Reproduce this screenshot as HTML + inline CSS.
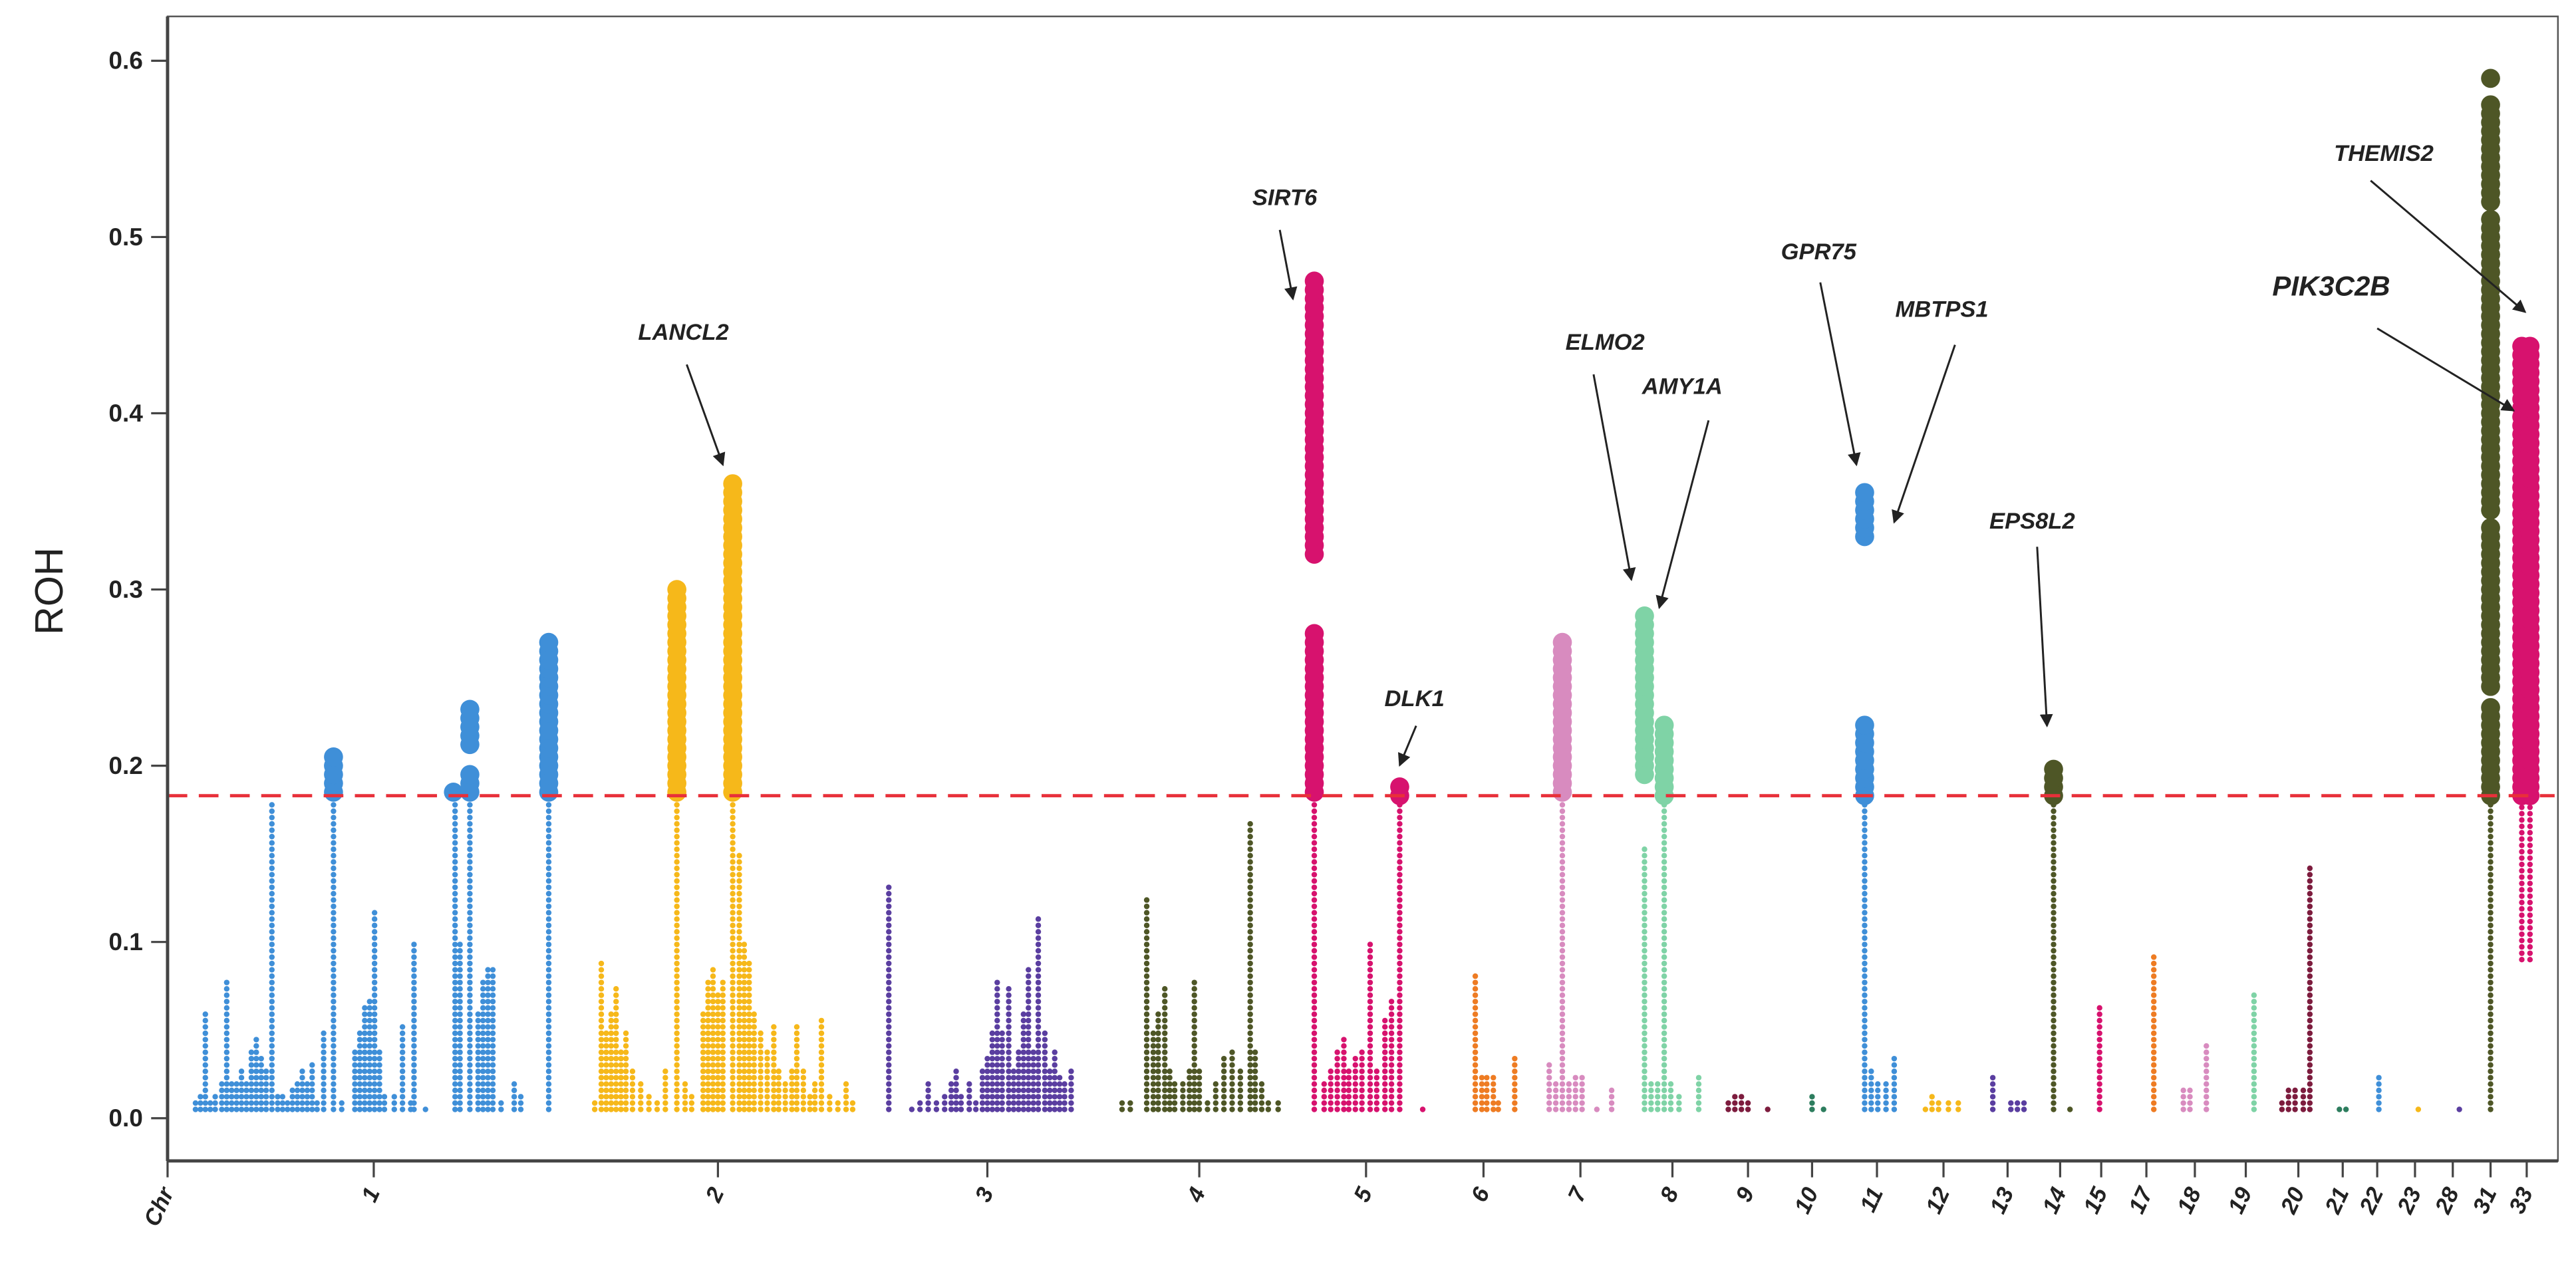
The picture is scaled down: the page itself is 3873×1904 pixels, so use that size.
<!DOCTYPE html>
<html><head><meta charset="utf-8"><style>
html,body{margin:0;padding:0;background:#fff}
svg{display:block}
text{font-family:"Liberation Sans",Arial,sans-serif}
</style></head><body>
<svg id="chart" xmlns="http://www.w3.org/2000/svg" width="3873" height="1904" viewBox="0 0 1568 771" preserveAspectRatio="none">
<rect x="0" y="0" width="1568" height="771" fill="#fff"/>
<g id="dots"></g>
<g id="axes"></g>
<g id="notes"></g>
</svg>
<script>
// ---- data ----
const yTicks = [0.0, 0.1, 0.2, 0.3, 0.4, 0.5, 0.6];
const threshold = 0.183;
const chrLabels = ["Chr","1","2","3","4","5","6","7","8","9","10","11","12","13","14","15","17","18","19","20","21","22","23","28","31","33"];
const chrTickPos = [0,251,670,998,1256,1459,1602,1720,1832,1924,2002,2081,2162,2240,2304,2354,2409,2468,2530,2594,2648,2690,2736,2782,2828,2872];
// each SNP column: chromosome label, cumulative position, lower ROH, upper ROH
const colChr = [];
const colPos = [];
const colLo = [];
const colHi = [];
const rawCols = [
["1",119,.005,.012],["1",122,.005,.015],["1",125,.005,.061],["1",128,.005,.012],["1",131,.005,.015],["1",135,.005,.022],["1",138,.005,.077],["1",141,.005,.022],["1",144,.005,.022],["1",147,.005,.03],["1",150,.005,.022],["1",153,.005,.04],["1",156,.005,.048],["1",159,.005,.035],["1",162,.005,.03],["1",165.5,.005,.18],["1",169,.005,.013],["1",172,.005,.013],["1",175,.005,.012],["1",178,.005,.018],["1",181,.005,.022],["1",184,.005,.028],["1",187,.005,.022],["1",190,.005,.031],["1",193,.005,.012],["1",197,.005,.05],["1",203,.005,.18],["1",203,.185,.205],["1",208,.005,.012],
["1",216,.005,.04],["1",219,.005,.05],["1",222,.005,.065],["1",225,.005,.069],["1",228,.005,.12],["1",231,.005,.04],["1",234,.005,.015],["1",240,.005,.015],["1",245,.005,.052],["1",250,.005,.012],["1",252,.005,.099],["1",259,.005,.005],["1",277,.005,.18],["1",276,.185,.186],["1",280,.005,.1],["1",286,.005,.18],["1",286,.185,.198],["1",286,.212,.235],["1",291,.005,.06],["1",294,.005,.08],["1",297,.005,.086],["1",300,.005,.086],["1",305,.005,.01],["1",313,.005,.02],["1",317,.005,.015],["1",334,.005,.18],["1",334,.185,.273],
["2",362,.005,.01],["2",366,.005,.091],["2",369,.005,.05],["2",372,.005,.06],["2",375,.005,.075],["2",378,.005,.04],["2",381,.005,.05],["2",385,.005,.03],["2",390,.005,.02],["2",395,.005,.015],["2",400,.005,.01],["2",405,.005,.03],["2",412,.005,.18],["2",412,.185,.30],["2",417,.005,.02],["2",421,.005,.015],["2",428,.005,.06],["2",431,.005,.08],["2",434,.005,.086],["2",437,.005,.07],["2",440,.005,.08],["2",446,.005,.18],["2",446,.185,.36],["2",450,.005,.15],["2",453,.005,.1],["2",456,.005,.09],["2",459,.005,.06],["2",463,.005,.05],["2",467,.005,.04],["2",471,.005,.055],["2",474,.005,.03],["2",478,.005,.02],["2",482,.005,.03],["2",485,.005,.055],["2",489,.005,.03],["2",493,.005,.015],["2",496,.005,.022],["2",500,.005,.058],["2",505,.005,.015],["2",510,.005,.01],["2",515,.005,.022],["2",519,.005,.01],
["3",541,.005,.132],["3",555,.005,.005],["3",560,.005,.012],["3",565,.005,.02],["3",570,.005,.01],["3",575,.005,.015],["3",579,.005,.02],["3",582,.005,.03],["3",585,.005,.015],["3",590,.005,.02],["3",594,.005,.012],["3",598,.005,.03],["3",601,.005,.037],["3",604,.005,.05],["3",607,.005,.077],["3",610,.005,.05],["3",614,.005,.074],["3",617,.005,.03],["3",620,.005,.04],["3",623,.005,.06],["3",626,.005,.086],["3",629,.005,.04],["3",632,.005,.116],["3",636,.005,.05],["3",639,.005,.03],["3",642,.005,.04],["3",645,.005,.025],["3",648,.005,.02],["3",652,.005,.028],
["4",683,.005,.012],["4",688,.005,.012],["4",698,.005,.124],["4",702,.005,.05],["4",705,.005,.06],["4",709,.005,.075],["4",712,.005,.03],["4",715,.005,.022],["4",720,.005,.02],["4",724,.005,.03],["4",727,.005,.077],["4",730,.005,.03],["4",735,.005,.012],["4",740,.005,.02],["4",745,.005,.035],["4",750,.005,.04],["4",755,.005,.03],["4",761,.005,.167],["4",764,.005,.04],["4",768,.005,.02],["4",772,.005,.012],["4",778,.005,.012],
["5",800,.005,.18],["5",800,.185,.275],["5",800,.32,.475],["5",806,.005,.02],["5",810,.005,.03],["5",814,.005,.04],["5",818,.005,.048],["5",821,.005,.03],["5",825,.005,.035],["5",829,.005,.04],["5",834,.005,.099],["5",838,.005,.03],["5",843,.005,.057],["5",847,.005,.067],["5",852,.005,.18],["5",852,.183,.19],["5",866,.005,.008],
["6",898,.005,.082],["6",902,.005,.023],["6",905,.005,.023],["6",909,.005,.023],["6",912,.005,.01],["6",922,.005,.035],
["7",943,.005,.031],["7",947,.005,.02],["7",951,.005,.18],["7",951,.185,.27],["7",955,.005,.02],["7",959,.005,.023],["7",963,.005,.023],["7",972,.005,.008],["7",981,.005,.017],
["8",1001,.005,.155],["8",1001,.195,.287],["8",1005,.005,.02],["8",1009,.005,.02],["8",1013,.005,.18],["8",1013,.183,.227],["8",1017,.005,.02],["8",1022,.005,.015],["8",1034,.005,.023],
["9",1052,.005,.012],["9",1056,.005,.015],["9",1060,.005,.015],["9",1064,.005,.012],["9",1076,.005,.008],
["10",1103,.005,.015],["10",1110,.005,.005],
["11",1135,.005,.18],["11",1135,.183,.225],["11",1135,.33,.355],["11",1139,.005,.03],["11",1143,.005,.02],["11",1148,.005,.02],["11",1153,.005,.035],
["12",1172,.005,.008],["12",1176,.005,.015],["12",1180,.005,.012],["12",1186,.005,.01],["12",1192,.005,.012],
["13",1213,.005,.026],["13",1224,.005,.012],["13",1228,.005,.012],["13",1232,.005,.012],
["14",1250,.005,.18],["14",1250,.183,.198],["14",1260,.005,.005],
["15",1278,.005,.065],["17",1311,.005,.092],
["18",1329,.005,.017],["18",1333,.005,.017],["18",1343,.005,.043],
["19",1372,.005,.073],
["20",1389,.005,.012],["20",1393,.005,.017],["20",1397,.005,.017],["20",1402,.005,.017],["20",1406,.005,.142],
["21",1424,.005,.005],["21",1428,.005,.005],["22",1448,.005,.026],["23",1472,.005,.005],["28",1497,.005,.005],
["31",1516,.005,.18],["31",1516,.183,.235],["31",1516,.245,.335],["31",1516,.345,.51],["31",1516,.52,.575],["31",1516,.59,.593],
["33",1535,.09,.18],["33",1535,.183,.44],["33",1540,.183,.44],["33",1540,.09,.18]
];
rawCols.forEach(c=>{colChr.push(c[0]);colPos.push((c[1]-102)*2);colLo.push(c[2]);colHi.push(c[3]);});
const chrColor = {"1":"#3f8fd8","2":"#f6b81a","3":"#5a3ea0","4":"#4e5626","5":"#d7126e","6":"#ee7c23","7":"#d88bbf","8":"#7fd3a6","9":"#7d1c3e","10":"#2d7d5e","11":"#3f8fd8","12":"#f6b81a","13":"#5a3ea0","14":"#4e5626","15":"#d7126e","17":"#ee7c23","18":"#d88bbf","19":"#7fd3a6","20":"#7d1c3e","21":"#2d7d5e","22":"#3f8fd8","23":"#f6b81a","28":"#5a3ea0","31":"#4e5626","33":"#d7126e"};
const genes = ["SIRT6","LANCL2","DLK1","ELMO2","AMY1A","GPR75","MBTPS1","EPS8L2","THEMIS2","PIK3C2B"];
const geneLabelX = [782,416,861,977,1024,1107,1182,1237,1451,1419];
const geneLabelY = [125,207,430,213,240,158,193,322,98,180];
const arrowFrom = [[779,140],[418,222],[862,442],[970,228],[1040,256],[1108,172],[1190,210],[1240,333],[1443,110],[1447,200]];
const arrowTo = [[787,182],[440,283],[852,466],[993,353],[1010,370],[1130,283],[1153,318],[1246,442],[1537,190],[1530,250]];

// ---- scales ----
const X0=102,X1=1557,Y0=681,Y6=37;
const x = p => X0 + p/2;
const y = v => Y0 - v*(Y0-Y6)/0.6;
const NS="http://www.w3.org/2000/svg";
function mk(tag, parent){const e=document.createElementNS(NS,tag);parent.appendChild(e);return e;}

// ---- points ----
const dots=document.getElementById('dots');
for(let i=0;i<colPos.length;i++){
  const big = colLo[i] >= threshold-0.001;
  const step = big?0.005:0.0036, r = big?5.8:1.7;
  const col = chrColor[colChr[i]];
  for(let v=colLo[i]; v<=colHi[i]+1e-9; v+=step){
    const c=mk('circle',dots);
    
    
    c.setAttribute('cx',x(colPos[i]));c.setAttribute('cy',y(v));c.setAttribute('r',r);c.setAttribute('fill',col);
  }
}

// ---- axes ----
const ax=document.getElementById('axes');
let t=mk('line',ax);
t.setAttribute('x1',X0);t.setAttribute('x2',X1-2);t.setAttribute('y1',y(threshold));t.setAttribute('y2',y(threshold));
t.setAttribute('stroke','#e8303a');t.setAttribute('stroke-width','2');t.setAttribute('stroke-dasharray','12 7');
const box=mk('rect',ax);
box.setAttribute('x',X0);box.setAttribute('y',10);box.setAttribute('width',X1-X0);box.setAttribute('height',697);
box.setAttribute('fill','none');box.setAttribute('stroke','#555');box.setAttribute('stroke-width','1');
const ya=mk('line',ax);
ya.setAttribute('x1',X0);ya.setAttribute('x2',X0);ya.setAttribute('y1',10);ya.setAttribute('y2',707);ya.setAttribute('stroke','#444');ya.setAttribute('stroke-width','2');
const xa=mk('line',ax);
xa.setAttribute('x1',X0);xa.setAttribute('x2',X1);xa.setAttribute('y1',707);xa.setAttribute('y2',707);xa.setAttribute('stroke','#444');xa.setAttribute('stroke-width','2');
yTicks.forEach(v=>{
  const l=mk('line',ax);
  l.setAttribute('x1',92);l.setAttribute('x2',X0);l.setAttribute('y1',y(v));l.setAttribute('y2',y(v));l.setAttribute('stroke','#444');l.setAttribute('stroke-width','1.3');
  const tx=mk('text',ax);
  tx.setAttribute('x',87);tx.setAttribute('y',y(v)+5);tx.setAttribute('text-anchor','end');tx.setAttribute('font-size','15');tx.setAttribute('font-weight','bold');tx.setAttribute('fill','#222');
  tx.textContent=v.toFixed(1);
});
chrLabels.forEach((lab,i)=>{
  const px=x(chrTickPos[i]);
  const l=mk('line',ax);
  l.setAttribute('x1',px);l.setAttribute('x2',px);l.setAttribute('y1',707);l.setAttribute('y2',717);l.setAttribute('stroke','#444');l.setAttribute('stroke-width','1.3');
  const tx=mk('text',ax);
  tx.setAttribute('transform','translate('+(px+4)+',726) rotate(-65)');tx.setAttribute('text-anchor','end');
  tx.setAttribute('font-size','14');tx.setAttribute('font-weight','bold');tx.setAttribute('font-style','italic');tx.setAttribute('fill','#222');
  tx.textContent=lab;
});
const yt=mk('text',ax);
yt.setAttribute('transform','translate(38,360) rotate(-90)');yt.setAttribute('text-anchor','middle');yt.setAttribute('font-size','24');yt.setAttribute('fill','#222');
yt.textContent='ROH';

// ---- annotations ----
const nt=document.getElementById('notes');
const defs=mk('defs',nt);
const mkr=mk('marker',defs);mkr.setAttribute('id','ah');mkr.setAttribute('markerWidth','8');mkr.setAttribute('markerHeight','8');mkr.setAttribute('refX','7');mkr.setAttribute('refY','4');mkr.setAttribute('orient','auto');mkr.setAttribute('markerUnits','userSpaceOnUse');
const mp=mk('path',mkr);mp.setAttribute('d','M0,0 L8,4 L0,8 Z');mp.setAttribute('fill','#222');
genes.forEach((g,i)=>{
  const tx=mk('text',nt);
  tx.setAttribute('x',geneLabelX[i]);tx.setAttribute('y',geneLabelY[i]);tx.setAttribute('text-anchor','middle');
  tx.setAttribute('font-size', g==='PIK3C2B'?'17':'14');tx.setAttribute('font-weight','bold');tx.setAttribute('font-style','italic');tx.setAttribute('fill','#222');
  tx.textContent=g;
  const a=mk('line',nt);
  a.setAttribute('x1',arrowFrom[i][0]);a.setAttribute('y1',arrowFrom[i][1]);a.setAttribute('x2',arrowTo[i][0]);a.setAttribute('y2',arrowTo[i][1]);
  a.setAttribute('stroke','#222');a.setAttribute('stroke-width','1.2');a.setAttribute('marker-end','url(#ah)');
});
</script>
</body></html>
